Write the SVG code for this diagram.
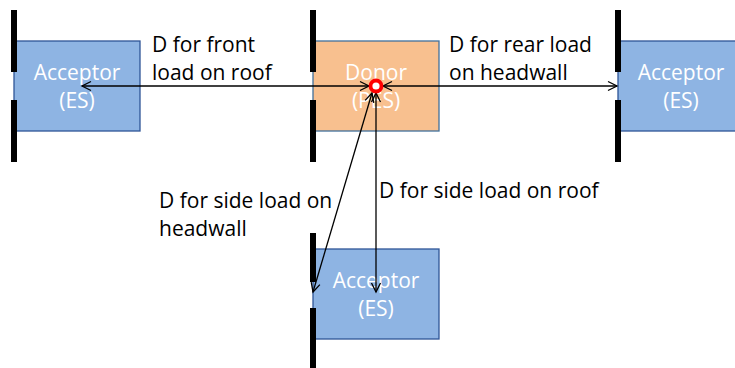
<svg xmlns="http://www.w3.org/2000/svg" width="735" height="368" viewBox="0 0 735 368">
<style>
.acc{fill:#8EB4E3;stroke:#2F5597;stroke-width:1.3}
.don{fill:#F8C08F;stroke:#41719C;stroke-width:1.3}
.bar{fill:#000}
.nt{font-family:"Open Sans","Liberation Sans",sans-serif;font-size:21px;fill:#fff;text-anchor:middle}
.lb{font-family:"Open Sans","Liberation Sans",sans-serif;font-size:21px;fill:#000}
.cn{stroke:#000;stroke-width:1.3;fill:none;marker-start:url(#ah);marker-end:url(#ah)}
</style>
<defs>
<marker id="ah" markerUnits="userSpaceOnUse" markerWidth="14" markerHeight="14" viewBox="0 0 14 14" refX="11" refY="7" orient="auto-start-reverse">
<path d="M2,2.5 L11,7 L2,11.5" fill="none" stroke="#000" stroke-width="1.3"/>
</marker>
</defs>
<g id="acceptor-left">
<rect class="acc" x="14" y="41" width="126" height="90"/>
<rect class="bar" x="11" y="10" width="6" height="62"/>
<rect class="bar" x="11" y="100" width="6" height="62"/>
<text class="nt" x="77" y="80">Acceptor</text>
<text class="nt" x="77" y="108">(ES)</text>
</g>
<g id="donor">
<rect class="don" x="313" y="41" width="126" height="90"/>
<rect class="bar" x="310" y="10" width="6" height="62"/>
<rect class="bar" x="310" y="100" width="6" height="62"/>
<text class="nt" x="376" y="80">Donor</text>
<text class="nt" x="376" y="108">(PES)</text>
</g>
<g id="acceptor-right">
<rect class="acc" x="618" y="41" width="126" height="90"/>
<rect class="bar" x="615" y="10" width="6" height="62"/>
<rect class="bar" x="615" y="100" width="6" height="62"/>
<text class="nt" x="681" y="80">Acceptor</text>
<text class="nt" x="681" y="108">(ES)</text>
</g>
<g id="acceptor-bottom">
<rect class="acc" x="313" y="249" width="126" height="90"/>
<rect class="bar" x="310" y="233" width="6" height="49"/>
<rect class="bar" x="310" y="308" width="6" height="62"/>
<text class="nt" x="376" y="288">Acceptor</text>
<text class="nt" x="376" y="316">(ES)</text>
</g>
<g id="connectors">
<line class="cn" x1="369" y1="86" x2="82" y2="86"/>
<line class="cn" x1="383" y1="86" x2="617" y2="86"/>
<line class="cn" x1="376" y1="93" x2="376" y2="292"/>
<line class="cn" x1="372" y1="93" x2="313" y2="292"/>
<circle cx="376" cy="86" r="5.5" fill="#fff" stroke="#FF0000" stroke-width="3.8"/>
</g>
<g id="labels">
<text class="lb" x="152" y="52">D for front</text>
<text class="lb" x="152" y="80">load on roof</text>
<text class="lb" x="449" y="52">D for rear load</text>
<text class="lb" x="449" y="80">on headwall</text>
<text class="lb" x="159" y="208">D for side load on</text>
<text class="lb" x="159" y="236">headwall</text>
<text class="lb" x="379" y="198">D for side load on roof</text>
</g>
</svg>
